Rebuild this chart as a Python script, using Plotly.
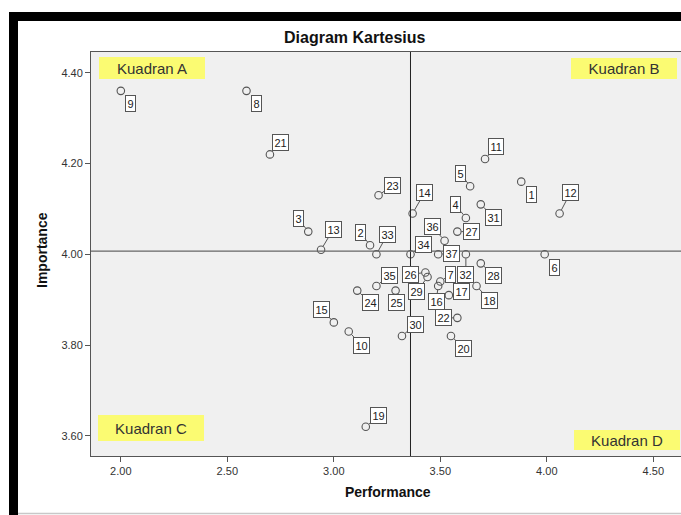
import plotly.graph_objects as go

# ---- data ----
item_ids = [1, 2, 3, 4, 5, 6, 7, 8, 9, 10, 11, 12, 13, 14, 15, 16, 17, 18, 19,
            20, 21, 22, 23, 24, 25, 26, 27, 28, 29, 30, 31, 32, 33, 34, 35, 36, 37]
performance = [3.88, 3.17, 2.88, 3.62, 3.64, 3.99, 3.50, 2.59, 2.00, 3.07, 3.71, 4.06, 2.94,
               3.37, 3.00, 3.49, 3.54, 3.67, 3.15, 3.55, 2.70, 3.58, 3.21, 3.11, 3.29, 3.43,
               3.58, 3.69, 3.44, 3.32, 3.69, 3.62, 3.20, 3.36, 3.20, 3.52, 3.49]
importance = [4.16, 4.02, 4.05, 4.08, 4.15, 4.00, 3.94, 4.36, 4.36, 3.83, 4.21, 4.09, 4.01,
              4.09, 3.85, 3.93, 3.91, 3.93, 3.62, 3.82, 4.22, 3.86, 4.13, 3.92, 3.92, 3.96,
              4.05, 3.98, 3.95, 3.82, 4.11, 4.00, 4.00, 4.00, 3.93, 4.03, 4.00]
mean_performance = 3.36
mean_importance = 4.007
x_ticks = [2.00, 2.50, 3.00, 3.50, 4.00, 4.50]
y_ticks = [3.60, 3.80, 4.00, 4.20, 4.40]
quadrant_names = ["Kuadran A", "Kuadran B", "Kuadran C", "Kuadran D"]

# label offsets (pixels, label centre relative to point)
label_offsets = {
    1: (10, 13), 2: (-10, -13), 3: (-10, -13), 4: (-10, -13), 5: (-10, -13), 6: (10, 13),
    7: (10, -7), 8: (10, 13), 9: (10, 13), 10: (13, 14), 11: (11, -12), 12: (11, -21),
    13: (12, -20), 14: (12, -21), 15: (-12, -13), 16: (-2, 15), 17: (13, -4), 18: (13, 14),
    19: (13, -11), 20: (13, 12), 21: (11, -12), 22: (-14, 0), 23: (14, -10), 24: (13, 12),
    25: (1, 12), 26: (-15, 2), 27: (14, 0), 28: (13, 12), 29: (-11, 15), 30: (14, -12),
    31: (13, 13), 32: (0, 20), 33: (11, -20), 34: (13, -10), 35: (13, -11), 36: (-12, -14),
    37: (13, -1),
}

FONT = "Liberation Sans, Arial, sans-serif"
W, H = 681, 515
L, R, T, B = 91, 0, 52, 59
PW, PH = W - L - R, H - T - B


def px_to_paper(px, py):
    return (px - L) / PW, (H - B - py) / PH


fig = go.Figure()
fig.add_trace(go.Scatter(
    x=performance, y=importance, mode="markers",
    marker=dict(symbol="circle-open", size=7.5, color="#555555", line=dict(width=1.1)),
    hoverinfo="text", text=[str(i) for i in item_ids], showlegend=False,
))

annotations = []
for i, xv, yv in zip(item_ids, performance, importance):
    dx, dy = label_offsets[i]
    annotations.append(dict(
        x=xv, y=yv, xref="x", yref="y", text=str(i), showarrow=True,
        ax=dx, ay=dy, arrowhead=0, arrowwidth=1, arrowcolor="#555555", standoff=4,
        font=dict(family=FONT, size=11, color="#222222"),
        bgcolor="#ffffff", bordercolor="#555555", borderwidth=1, borderpad=1.5,
    ))

# quadrant labels
quad_px = [(152, 68.3, 104, 20), (623.5, 68, 104, 19), (151, 428, 104, 24), (626.5, 439.5, 104, 18)]
for name, (cx, cy, w, h) in zip(quadrant_names, quad_px):
    xp, yp = px_to_paper(cx, cy)
    annotations.append(dict(
        x=xp, y=yp, xref="paper", yref="paper", text=name, showarrow=False,
        xanchor="center", yanchor="middle", width=w, height=h, align="center", valign="middle",
        bgcolor="#fbfb72", borderpad=1, borderwidth=0,
        font=dict(family=FONT, size=15, color="#333333"),
    ))

# title and axis titles
tx, ty = px_to_paper(354, 38)
annotations.append(dict(x=tx, y=ty, xref="paper", yref="paper", text="<b>Diagram Kartesius</b>",
                        showarrow=False, xanchor="center", yanchor="middle",
                        font=dict(family=FONT, size=16, color="#111111")))
ax_, ay_ = px_to_paper(388, 492)
annotations.append(dict(x=ax_, y=ay_, xref="paper", yref="paper", text="<b>Performance</b>",
                        showarrow=False, xanchor="center", yanchor="middle",
                        font=dict(family=FONT, size=14, color="#111111")))
bx, by = px_to_paper(42, 250)
annotations.append(dict(x=bx, y=by, xref="paper", yref="paper", text="<b>Importance</b>",
                        showarrow=False, xanchor="center", yanchor="middle", textangle=-90,
                        font=dict(family=FONT, size=14, color="#111111")))

shapes = [
    dict(type="line", xref="x", yref="paper", x0=mean_performance, x1=mean_performance, y0=0, y1=1,
         line=dict(color="#222222", width=1)),
    dict(type="line", xref="paper", yref="y", x0=0, x1=1, y0=mean_importance, y1=mean_importance,
         line=dict(color="#666666", width=1.3)),
]
# outer black frame (top and left) and bottom grey line
x10, y12 = px_to_paper(9, 12)
x19, y21 = px_to_paper(18, 21)
x_end, y_end = px_to_paper(681, 515)
shapes.append(dict(type="rect", xref="paper", yref="paper", x0=x10, x1=x_end, y0=y21, y1=y12,
                   fillcolor="#000000", line=dict(width=0), layer="above"))
shapes.append(dict(type="rect", xref="paper", yref="paper", x0=x10, x1=x19, y0=y_end, y1=y12,
                   fillcolor="#000000", line=dict(width=0), layer="above"))
_, y513 = px_to_paper(0, 513.5)
shapes.append(dict(type="line", xref="paper", yref="paper", x0=x19, x1=x_end, y0=y513, y1=y513,
                   line=dict(color="#c8c8c8", width=1.5)))

x_range = [1.860, 4.630]
y_range = [3.5557, 4.4456]

fig.update_layout(
    width=W, height=H,
    margin=dict(l=L, r=R, t=T, b=B),
    paper_bgcolor="#ffffff", plot_bgcolor="#f0f0f0",
    annotations=annotations, shapes=shapes,
    xaxis=dict(range=x_range, tickvals=x_ticks, tickformat=".2f", showgrid=False, zeroline=False,
               showline=True, mirror=True, linecolor="#555555", linewidth=1,
               ticks="outside", ticklen=5, tickcolor="#555555",
               tickfont=dict(family=FONT, size=11, color="#333333")),
    yaxis=dict(range=y_range, tickvals=y_ticks, tickformat=".2f", showgrid=False, zeroline=False,
               showline=True, mirror=False, linecolor="#555555", linewidth=1,
               ticks="outside", ticklen=5, tickcolor="#555555",
               tickfont=dict(family=FONT, size=11, color="#333333")),
)

fig.write_html(
    "out.html",
    config={"displayModeBar": False},
    post_script="document.body.style.margin='0';document.body.style.overflow='hidden';"
                "document.documentElement.style.overflow='hidden';",
)
